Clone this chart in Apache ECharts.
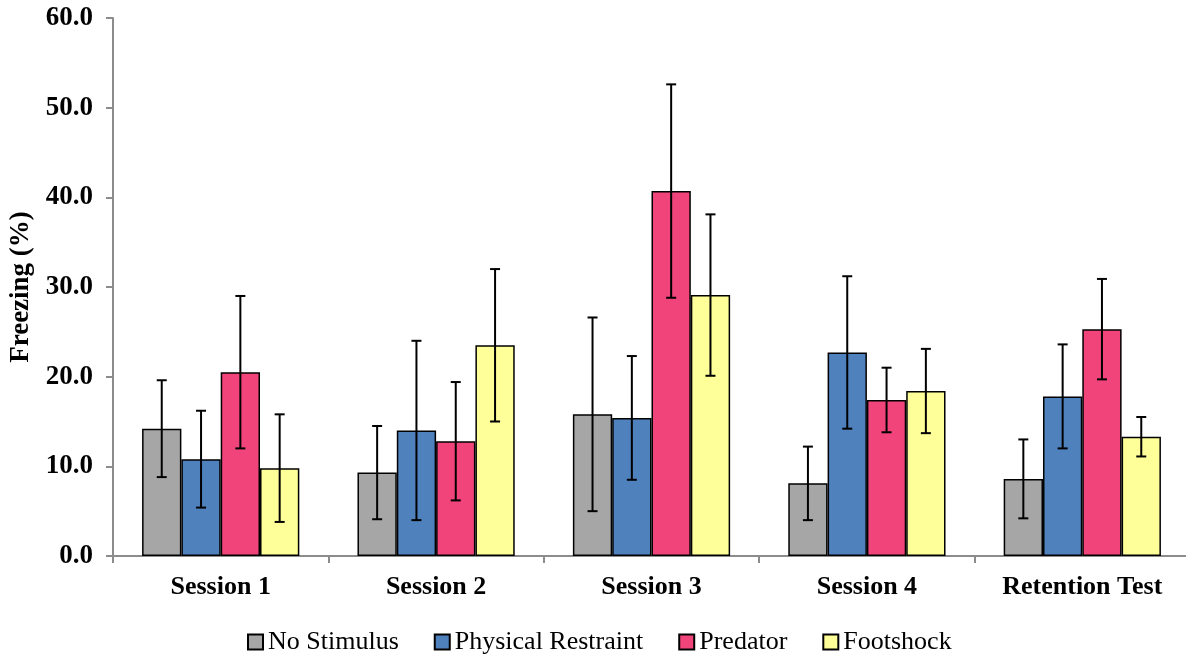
<!DOCTYPE html>
<html>
<head>
<meta charset="utf-8">
<script src="https://cdn.jsdelivr.net/npm/echarts@6/dist/echarts.min.js"></script>
<style>html,body{margin:0;padding:0;background:#fff}#c{width:1186px;height:656px}</style>
</head>
<body>
<div id="c"></div>
<script>
const categories = ['Session 1', 'Session 2', 'Session 3', 'Session 4', 'Retention Test'];
const seriesNames = ['No Stimulus', 'Physical Restraint', 'Predator', 'Footshock'];
const noStimulus = [14.2, 9.3, 15.8, 8.1, 8.6];
const noStimulusErr = [5.4, 5.2, 10.8, 4.1, 4.4];
const restraint = [10.8, 14.0, 15.4, 22.7, 17.8];
const restraintErr = [5.4, 10.0, 6.9, 8.5, 5.8];
const predator = [20.5, 12.8, 40.7, 17.4, 25.3];
const predatorErr = [8.5, 6.6, 11.9, 3.6, 5.6];
const footshock = [9.8, 23.5, 29.1, 18.4, 13.3];
const footshockErr = [6.0, 8.5, 9.0, 4.7, 2.2];
const yTicks = { min: 0, max: 60, interval: 10 };

const values = [noStimulus, restraint, predator, footshock];
const errors = [noStimulusErr, restraintErr, predatorErr, footshockErr];
const colors = ['#A6A6A6', '#4F81BD', '#F1447B', '#FFFF99'];
const FONT = "'Liberation Serif', 'Times New Roman', serif";
const CAT_GAP = 0.27;
const N = values.length;

const series = [];
values.forEach((vals, i) => {
  series.push({
    name: seriesNames[i],
    type: 'bar',
    data: vals,
    barGap: '0%',
    barCategoryGap: (CAT_GAP * 100) + '%',
    itemStyle: { color: colors[i], borderColor: '#000', borderWidth: 1.5 },
    emphasis: { disabled: true }
  });
});
values.forEach((vals, i) => {
  series.push({
    name: seriesNames[i] + ' err',
    type: 'custom',
    z: 5,
    silent: true,
    data: vals.map((v, k) => [k, v - errors[i][k], v + errors[i][k]]),
    renderItem: function (params, api) {
      const k = api.value(0);
      const lo = api.coord([k, api.value(1)]);
      const hi = api.coord([k, api.value(2)]);
      const band = api.size([1, 0])[0];
      const groupW = band * (1 - CAT_GAP);
      const bw = groupW / N;
      const x = lo[0] - groupW / 2 + bw * (i + 0.5);
      const cap = 5;
      const st = { stroke: '#000', lineWidth: 2 };
      return {
        type: 'group',
        children: [
          { type: 'line', shape: { x1: x, y1: lo[1], x2: x, y2: hi[1] }, style: st },
          { type: 'line', shape: { x1: x - cap, y1: lo[1], x2: x + cap, y2: lo[1] }, style: st },
          { type: 'line', shape: { x1: x - cap, y1: hi[1], x2: x + cap, y2: hi[1] }, style: st }
        ]
      };
    }
  });
});

const chart = echarts.init(document.getElementById('c'));
chart.setOption({
  backgroundColor: '#fff',
  animation: false,
  grid: { left: 113, top: 18, width: 1077, height: 538, containLabel: false, outerBoundsMode: 'none' },
  legend: {
    data: seriesNames,
    icon: 'rect',
    left: 242,
    top: 624,
    itemWidth: 15,
    itemHeight: 15,
    itemGap: 35,
    textStyle: { fontFamily: FONT, fontSize: 26, color: '#000' }
  },
  xAxis: {
    type: 'category',
    data: categories,
    axisLine: { lineStyle: { color: '#8c8c8c', width: 2 } },
    axisTick: { show: true, length: 7, lineStyle: { color: '#8c8c8c', width: 2 } },
    axisLabel: { margin: 18, fontFamily: FONT, fontSize: 26, fontWeight: 'bold', color: '#000' }
  },
  yAxis: {
    type: 'value',
    min: yTicks.min,
    max: yTicks.max,
    interval: yTicks.interval,
    name: 'Freezing (%)',
    nameLocation: 'middle',
    nameGap: 76,
    nameTextStyle: { fontFamily: FONT, fontSize: 27, fontWeight: 'bold', color: '#000' },
    splitLine: { show: false },
    axisLine: { show: true, lineStyle: { color: '#8c8c8c', width: 2 } },
    axisTick: { show: true, length: 7, lineStyle: { color: '#8c8c8c', width: 2 } },
    axisLabel: {
      margin: 20, fontFamily: FONT, fontSize: 27, fontWeight: 'bold', color: '#000',
      formatter: v => v.toFixed(1)
    }
  },
  series: series
});
</script>
</body>
</html>
